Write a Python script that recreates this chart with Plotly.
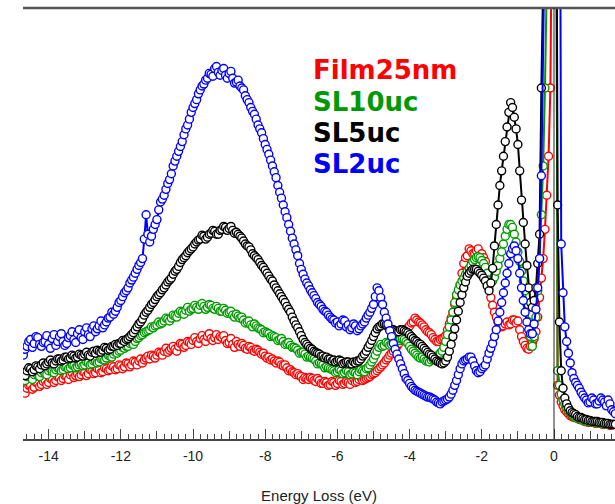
import numpy as np
import plotly.graph_objects as go

# Energy-loss axis: 0.05 eV sampling from -14.70 to 1.70 eV (329 channels)
energy = np.round(np.arange(-14.70, 1.7001, 0.05), 2)

# Intensities (arb. units), ten channels (0.5 eV) per row.
# The zero-loss peak runs far above the visible range.
film25nm = [
    0.50, 0.47, 0.52, 0.55, 0.55, 0.51, 0.53, 0.58, 0.57, 0.54,
    0.56, 0.59, 0.60, 0.56, 0.58, 0.62, 0.61, 0.58, 0.60, 0.64,
    0.63, 0.60, 0.62, 0.65, 0.64, 0.61, 0.66, 0.68, 0.63, 0.65,
    0.67, 0.64, 0.66, 0.69, 0.68, 0.65, 0.67, 0.71, 0.70, 0.67,
    0.68, 0.72, 0.71, 0.68, 0.69, 0.73, 0.72, 0.70, 0.71, 0.75,
    0.74, 0.71, 0.72, 0.76, 0.75, 0.72, 0.74, 0.78, 0.77, 0.74,
    0.76, 0.80, 0.79, 0.76, 0.80, 0.82, 0.78, 0.81, 0.83, 0.85,
    0.82, 0.86, 0.85, 0.83, 0.86, 0.89, 0.88, 0.86, 0.90, 0.93,
    0.89, 0.91, 0.93, 0.95, 0.92, 0.90, 0.95, 0.98, 0.97, 0.94,
    0.96, 1.00, 0.99, 0.97, 1.01, 1.04, 1.00, 0.98, 1.03, 1.06,
    1.02, 1.00, 1.05, 1.08, 1.03, 1.01, 1.04, 1.07, 1.02, 1.05,
    1.04, 1.06, 1.01, 0.98, 0.99, 1.03, 0.97, 0.94, 1.00, 0.97,
    0.95, 0.98, 0.96, 0.93, 0.92, 0.95, 0.94, 0.91, 0.90, 0.92,
    0.91, 0.89, 0.87, 0.88, 0.85, 0.83, 0.84, 0.81, 0.82, 0.80,
    0.78, 0.80, 0.79, 0.76, 0.75, 0.76, 0.73, 0.70, 0.71, 0.69,
    0.68, 0.66, 0.67, 0.65, 0.64, 0.61, 0.63, 0.62, 0.61, 0.63,
    0.62, 0.60, 0.59, 0.62, 0.60, 0.57, 0.57, 0.59, 0.58, 0.55,
    0.56, 0.59, 0.58, 0.55, 0.57, 0.60, 0.59, 0.56, 0.57, 0.59,
    0.58, 0.56, 0.60, 0.62, 0.58, 0.59, 0.61, 0.63, 0.60, 0.61,
    0.62, 0.63, 0.64, 0.66, 0.67, 0.68, 0.70, 0.72, 0.74, 0.76,
    0.78, 0.81, 0.83, 0.86, 0.88, 0.90, 0.92, 0.95, 0.98, 1.01,
    1.04, 1.07, 1.10, 1.14, 1.16, 1.19, 1.20, 1.24, 1.22, 1.20,
    1.19, 1.17, 1.15, 1.12, 1.10, 1.09, 1.07, 1.04, 1.02, 1.00,
    1.00, 1.02, 1.03, 1.04, 1.06, 1.12, 1.18, 1.24, 1.30, 1.38,
    1.45, 1.50, 1.58, 1.70, 1.80, 1.86, 1.88, 1.95, 1.93, 1.90,
    1.90, 1.93, 1.95, 1.88, 1.90, 1.86, 1.82, 1.70, 1.55, 1.45,
    1.37, 1.30, 1.25, 1.20, 1.17, 1.15, 1.16, 1.18, 1.20, 1.17,
    1.18, 1.22, 1.22, 1.19, 1.21, 1.12, 1.05, 1.00, 0.96, 0.93,
    0.92, 0.95, 0.98, 1.03, 1.10, 1.25, 1.45, 1.65, 1.85, 2.15,
    2.50, 2.90, 3.60, 6.00, 8.00, 8.00, 0.55, 0.45, 0.38, 0.34,
    0.30, 0.28, 0.26, 0.24, 0.23, 0.22, 0.22, 0.21, 0.20, 0.20,
    0.19, 0.18, 0.18, 0.17, 0.17, 0.17, 0.17, 0.16, 0.16, 0.16,
    0.16, 0.15, 0.15, 0.15, 0.15, 0.14, 0.14, 0.15, 0.15,
]

sl10uc = [
    0.62, 0.60, 0.64, 0.66, 0.63, 0.61, 0.66, 0.68, 0.65, 0.64,
    0.68, 0.70, 0.67, 0.66, 0.70, 0.72, 0.69, 0.68, 0.71, 0.73,
    0.72, 0.70, 0.71, 0.74, 0.74, 0.72, 0.73, 0.76, 0.75, 0.73,
    0.74, 0.76, 0.77, 0.75, 0.76, 0.79, 0.78, 0.76, 0.77, 0.80,
    0.80, 0.78, 0.79, 0.82, 0.82, 0.81, 0.83, 0.86, 0.85, 0.84,
    0.87, 0.89, 0.88, 0.90, 0.91, 0.94, 0.93, 0.95, 0.95, 0.98,
    0.99, 0.97, 1.00, 1.03, 1.04, 1.06, 1.07, 1.09, 1.10, 1.11,
    1.12, 1.15, 1.14, 1.16, 1.17, 1.20, 1.18, 1.19, 1.21, 1.24,
    1.23, 1.21, 1.24, 1.27, 1.26, 1.25, 1.29, 1.31, 1.30, 1.28,
    1.32, 1.35, 1.31, 1.33, 1.34, 1.37, 1.35, 1.33, 1.37, 1.39,
    1.36, 1.33, 1.35, 1.38, 1.37, 1.34, 1.33, 1.36, 1.34, 1.31,
    1.31, 1.34, 1.32, 1.29, 1.30, 1.31, 1.27, 1.25, 1.28, 1.26,
    1.24, 1.25, 1.22, 1.19, 1.20, 1.21, 1.17, 1.15, 1.18, 1.16,
    1.14, 1.13, 1.12, 1.09, 1.10, 1.09, 1.08, 1.05, 1.06, 1.05,
    1.04, 1.01, 1.02, 1.03, 1.00, 0.97, 0.98, 0.99, 0.96, 0.94,
    0.94, 0.93, 0.91, 0.88, 0.89, 0.89, 0.87, 0.84, 0.85, 0.84,
    0.83, 0.82, 0.80, 0.77, 0.78, 0.77, 0.76, 0.73, 0.74, 0.73,
    0.72, 0.71, 0.70, 0.68, 0.69, 0.71, 0.70, 0.67, 0.68, 0.70,
    0.69, 0.66, 0.67, 0.69, 0.68, 0.66, 0.69, 0.71, 0.70, 0.69,
    0.72, 0.73, 0.76, 0.79, 0.82, 0.86, 0.90, 0.94, 0.97, 0.95,
    0.96, 0.99, 0.98, 0.96, 0.97, 1.00, 0.99, 1.02, 1.01, 1.03,
    1.03, 1.02, 1.00, 0.98, 0.95, 0.92, 0.90, 0.88, 0.86, 0.84,
    0.83, 0.84, 0.82, 0.80, 0.80, 0.79, 0.81, 0.82, 0.83, 0.84,
    0.86, 0.88, 0.90, 0.94, 1.00, 1.07, 1.15, 1.22, 1.30, 1.40,
    1.48, 1.53, 1.58, 1.62, 1.65, 1.69, 1.72, 1.75, 1.78, 1.82,
    1.84, 1.86, 1.87, 1.86, 1.83, 1.80, 1.76, 1.70, 1.63, 1.60,
    1.62, 1.66, 1.72, 1.78, 1.85, 1.92, 2.00, 2.08, 2.15, 2.20,
    2.20, 2.17, 2.10, 2.02, 1.92, 1.82, 1.72, 1.62, 1.52, 1.38,
    1.20, 1.05, 0.95, 1.05, 1.25, 1.52, 1.85, 2.30, 2.80, 3.60,
    8.00, 8.00, 8.00, 8.00, 8.00, 8.00, 0.70, 0.55, 0.46, 0.40,
    0.36, 0.32, 0.29, 0.27, 0.25, 0.23, 0.22, 0.21, 0.21, 0.20,
    0.19, 0.19, 0.18, 0.18, 0.18, 0.17, 0.17, 0.17, 0.17, 0.16,
    0.16, 0.16, 0.16, 0.15, 0.15, 0.15, 0.15, 0.15, 0.15,
]

sl5uc = [
    0.67, 0.65, 0.70, 0.73, 0.72, 0.69, 0.71, 0.75, 0.74, 0.72,
    0.76, 0.78, 0.75, 0.77, 0.79, 0.81, 0.78, 0.77, 0.80, 0.82,
    0.82, 0.80, 0.81, 0.84, 0.84, 0.82, 0.83, 0.86, 0.85, 0.83,
    0.84, 0.87, 0.86, 0.85, 0.87, 0.89, 0.86, 0.85, 0.89, 0.90,
    0.88, 0.91, 0.90, 0.89, 0.91, 0.94, 0.93, 0.91, 0.92, 0.95,
    0.95, 0.97, 0.96, 0.98, 0.98, 1.01, 1.00, 1.02, 1.03, 1.05,
    1.07, 1.09, 1.12, 1.15, 1.18, 1.20, 1.23, 1.27, 1.30, 1.32,
    1.35, 1.38, 1.40, 1.43, 1.46, 1.48, 1.50, 1.53, 1.55, 1.58,
    1.61, 1.63, 1.65, 1.69, 1.72, 1.74, 1.77, 1.81, 1.84, 1.86,
    1.88, 1.91, 1.93, 1.95, 1.97, 2.00, 2.02, 2.04, 2.05, 2.09,
    2.08, 2.05, 2.07, 2.10, 2.11, 2.14, 2.13, 2.10, 2.10, 2.14,
    2.15, 2.18, 2.17, 2.14, 2.16, 2.18, 2.14, 2.11, 2.12, 2.10,
    2.08, 2.06, 2.03, 2.00, 1.98, 1.97, 1.94, 1.90, 1.88, 1.86,
    1.84, 1.81, 1.78, 1.76, 1.73, 1.70, 1.67, 1.64, 1.62, 1.58,
    1.55, 1.52, 1.49, 1.46, 1.43, 1.40, 1.36, 1.33, 1.30, 1.25,
    1.21, 1.17, 1.14, 1.10, 1.06, 1.02, 0.99, 0.97, 0.95, 0.93,
    0.92, 0.90, 0.89, 0.88, 0.87, 0.85, 0.85, 0.83, 0.84, 0.82,
    0.82, 0.80, 0.81, 0.79, 0.80, 0.81, 0.80, 0.77, 0.78, 0.79,
    0.79, 0.77, 0.77, 0.79, 0.78, 0.80, 0.80, 0.82, 0.85, 0.87,
    0.90, 0.94, 0.97, 1.01, 1.05, 1.09, 1.13, 1.15, 1.16, 1.18,
    1.18, 1.17, 1.15, 1.13, 1.12, 1.12, 1.11, 1.10, 1.10, 1.12,
    1.12, 1.11, 1.10, 1.09, 1.07, 1.05, 1.03, 1.01, 1.00, 0.98,
    0.97, 0.95, 0.93, 0.91, 0.89, 0.87, 0.86, 0.84, 0.82, 0.80,
    0.79, 0.78, 0.77, 0.78, 0.80, 0.84, 0.90, 0.97, 1.05, 1.13,
    1.22, 1.31, 1.40, 1.48, 1.55, 1.61, 1.67, 1.70, 1.72, 1.74,
    1.74, 1.74, 1.72, 1.70, 1.68, 1.65, 1.62, 1.57, 1.52, 1.60,
    1.75, 1.98, 2.20, 2.40, 2.60, 2.75, 2.90, 3.05, 3.20, 3.35,
    3.45, 3.40, 3.30, 3.18, 3.02, 2.75, 2.45, 2.22, 2.00, 1.78,
    1.55, 1.40, 1.35, 1.42, 1.55, 1.80, 2.10, 3.60, 8.00, 8.00,
    8.00, 8.00, 8.00, 8.00, 8.00, 8.00, 2.40, 1.20, 0.70, 0.52,
    0.42, 0.36, 0.32, 0.29, 0.27, 0.26, 0.25, 0.23, 0.22, 0.22,
    0.21, 0.20, 0.20, 0.19, 0.19, 0.18, 0.18, 0.18, 0.18, 0.17,
    0.17, 0.17, 0.16, 0.16, 0.16, 0.15, 0.15, 0.15, 0.15,
]

sl2uc = [
    0.86, 0.92, 0.95, 1.00, 1.02, 0.94, 0.98, 1.05, 1.04, 0.97,
    0.95, 0.99, 1.00, 1.06, 0.97, 0.93, 1.03, 1.07, 0.96, 1.00,
    1.05, 1.08, 1.00, 0.96, 0.98, 1.04, 1.06, 1.10, 1.02, 0.99,
    1.08, 1.12, 1.04, 1.02, 1.10, 1.14, 1.07, 1.05, 1.13, 1.16,
    1.10, 1.13, 1.16, 1.21, 1.14, 1.17, 1.20, 1.24, 1.25, 1.30,
    1.28, 1.31, 1.35, 1.40, 1.42, 1.46, 1.50, 1.52, 1.55, 1.60,
    1.63, 1.66, 1.70, 1.74, 1.78, 1.81, 1.85, 2.05, 2.30, 2.10,
    2.02, 2.08, 2.15, 2.20, 2.25, 2.35, 2.43, 2.46, 2.50, 2.56,
    2.62, 2.66, 2.72, 2.80, 2.85, 2.90, 2.95, 3.00, 3.05, 3.12,
    3.18, 3.22, 3.28, 3.35, 3.40, 3.44, 3.48, 3.54, 3.58, 3.62,
    3.64, 3.68, 3.70, 3.75, 3.74, 3.72, 3.80, 3.82, 3.76, 3.73,
    3.78, 3.80, 3.73, 3.70, 3.75, 3.77, 3.70, 3.65, 3.66, 3.68,
    3.62, 3.60, 3.58, 3.52, 3.48, 3.45, 3.40, 3.36, 3.33, 3.28,
    3.22, 3.18, 3.14, 3.08, 3.02, 2.97, 2.92, 2.86, 2.80, 2.74,
    2.68, 2.60, 2.53, 2.47, 2.40, 2.33, 2.27, 2.20, 2.13, 2.06,
    2.00, 1.94, 1.88, 1.80, 1.74, 1.69, 1.64, 1.60, 1.57, 1.53,
    1.50, 1.47, 1.44, 1.40, 1.38, 1.36, 1.33, 1.31, 1.30, 1.27,
    1.25, 1.23, 1.22, 1.19, 1.20, 1.16, 1.18, 1.22, 1.21, 1.15,
    1.17, 1.12, 1.14, 1.18, 1.16, 1.11, 1.13, 1.16, 1.18, 1.20,
    1.24, 1.27, 1.30, 1.34, 1.38, 1.46, 1.55, 1.52, 1.45, 1.38,
    1.30, 1.24, 1.18, 1.11, 1.05, 0.98, 0.92, 0.87, 0.82, 0.77,
    0.72, 0.67, 0.62, 0.60, 0.57, 0.54, 0.52, 0.50, 0.49, 0.48,
    0.47, 0.46, 0.45, 0.44, 0.43, 0.43, 0.42, 0.41, 0.40, 0.38,
    0.37, 0.36, 0.38, 0.39, 0.40, 0.41, 0.43, 0.46, 0.50, 0.55,
    0.60, 0.66, 0.72, 0.77, 0.80, 0.81, 0.82, 0.84, 0.84, 0.80,
    0.75, 0.70, 0.68, 0.69, 0.72, 0.74, 0.76, 0.82, 0.88, 0.93,
    0.98, 1.05, 1.12, 1.21, 1.30, 1.40, 1.50, 1.60, 1.70, 1.80,
    1.90, 1.95, 1.98, 1.93, 1.85, 1.70, 1.55, 1.42, 1.30, 1.20,
    1.12, 1.08, 1.08, 1.18, 1.33, 1.55, 1.85, 2.70, 8.00, 8.00,
    8.00, 8.00, 8.00, 8.00, 8.00, 8.00, 8.00, 8.00, 2.00, 1.50,
    1.15, 1.00, 0.88, 0.78, 0.68, 0.62, 0.58, 0.55, 0.52, 0.48,
    0.45, 0.42, 0.40, 0.37, 0.38, 0.42, 0.40, 0.36, 0.36, 0.39,
    0.42, 0.40, 0.38, 0.34, 0.40, 0.36, 0.30, 0.28, 0.26,
]

series_names = ["Film25nm", "SL10uc", "SL5uc", "SL2uc"]
series_data = [film25nm, sl10uc, sl5uc, sl2uc]
series_colors = ["#ff0000", "#009a00", "#000000", "#0000ff"]

major_ticks = [-14, -12, -10, -8, -6, -4, -2, 0]
odd_ticks = [-13, -11, -9, -7, -5, -3, -1, 1]

x_range = [-14.71, 1.69]
y_range = [0, 4.42]

fig = go.Figure()

for name, vals, col in zip(series_names, series_data, series_colors):
    fig.add_trace(go.Scatter(
        x=energy, y=vals, name=name, mode="lines+markers",
        line=dict(color=col, width=2),
        marker=dict(symbol="circle", size=8, color="white",
                    line=dict(color=col, width=1.4)),
        showlegend=False,
    ))

# carrier trace for the secondary axis holding the odd-integer ticks
fig.add_trace(go.Scatter(x=[x_range[0]], y=[0], xaxis="x2", mode="markers",
                         marker=dict(opacity=0), showlegend=False,
                         hoverinfo="skip"))

tick_font = dict(family="Liberation Sans, Arial, sans-serif", size=14, color="#222")
title_font = dict(family="Liberation Sans, Arial, sans-serif", size=15, color="#222")

fig.update_layout(
    width=615, height=504,
    margin=dict(l=23, r=0, t=8, b=54),
    paper_bgcolor="white", plot_bgcolor="white",
    xaxis=dict(
        range=x_range, showgrid=False, zeroline=False,
        showline=True, linecolor="#444", linewidth=1.5,
        tickmode="array", tickvals=major_ticks,
        ticktext=[str(t) for t in major_ticks],
        ticks="inside", ticklen=10, tickwidth=1, tickcolor="#444",
        tickfont=tick_font, ticklabelstandoff=3,
        minor=dict(dtick=0.2, tick0=0, ticks="inside", ticklen=5,
                   tickwidth=1, tickcolor="#444", showgrid=False),
        title=dict(text="Energy Loss (eV)", font=title_font, standoff=30),
    ),
    xaxis2=dict(
        range=x_range, overlaying="x", anchor="y", side="bottom",
        showgrid=False, zeroline=False, showline=False,
        tickmode="array", tickvals=odd_ticks, showticklabels=False,
        ticks="inside", ticklen=8, tickwidth=1, tickcolor="#444",
    ),
    yaxis=dict(range=y_range, visible=False, showgrid=False, zeroline=False),
)

# frame line along the top and the zero-energy marker
fig.add_shape(type="line", xref="paper", yref="paper", x0=0, x1=1, y0=1, y1=1,
              line=dict(color="#555", width=2.5))
fig.add_shape(type="line", xref="x", yref="paper", x0=0, x1=0, y0=0, y1=1,
              line=dict(color="#222", width=1))

label_y = [0.857, 0.781, 0.710, 0.638]
for name, col, ly in zip(series_names, series_colors, label_y):
    fig.add_annotation(
        text=f"<b>{name}</b>", xref="paper", yref="paper", x=0.4865, y=ly,
        xanchor="left", yanchor="middle", showarrow=False,
        font=dict(family="DejaVu Sans, sans-serif", size=26, color=col),
    )

fig.write_html("out.html")
